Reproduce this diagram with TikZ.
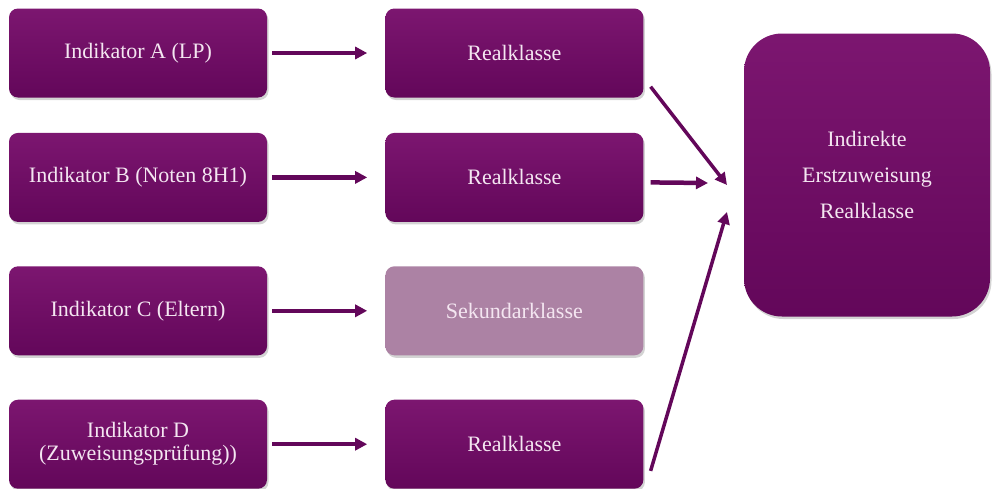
\documentclass[tikz,border=0pt]{standalone}
\usepackage{fontspec}
\setmainfont{Liberation Serif}
\newfontfamily\boxfont{Liberation Serif}
\usetikzlibrary{positioning,shadows,arrows.meta}
\definecolor{plumDark}{HTML}{63075A}
\definecolor{plumTop}{HTML}{7C1670}
\definecolor{plumPale}{HTML}{AC82A4}
\definecolor{plumText}{HTML}{F4E6F1}

\begin{document}
\begin{tikzpicture}[
      x=1pt, y=1pt,
      node distance=35pt and 118pt,                       % vertical and horizontal gaps
      box/.style={rounded corners=9pt, align=center, minimum width=258pt, minimum height=89pt,
                  top color=plumTop, bottom color=plumDark, text=plumText,
                  font=\boxfont\fontsize{22}{27}\selectfont,
                  drop shadow={shadow xshift=1.5pt, shadow yshift=-2.5pt, opacity=0.35}},  % one box per step
      pale/.style={box, top color=plumPale, bottom color=plumPale, drop shadow={opacity=0}},
      arr/.style={draw=plumDark, line width=4.5pt, -{Triangle[length=12pt,width=12pt]}}]  % arrow style
    \useasboundingbox (0,0) rectangle (994,-488);
    \node[box] (indA) at (138,-53) {Indikator A (LP)};
    \node[box, below=of indA] (indB) {Indikator B (Noten 8H1)};
    \node[box, below=44pt of indB] (indC) {Indikator C (Eltern)};
    \node[box, below=44pt of indC] (indD) {Indikator D\\[-4pt](Zuweisungsprüfung))};
    \node[box, right=of indA] (realA) {Realklasse};
    \node[box, right=of indB] (realB) {Realklasse};
    \node[pale, right=of indC] (sek) {Sekundarklasse};
    \node[box, right=of indD] (realD) {Realklasse};
    \node[box, minimum width=246pt, minimum height=283pt, rounded corners=38pt,
          font=\boxfont\fontsize{22}{36}\selectfont] (goal) at (867,-175) {Indirekte\\Erstzuweisung\\Realklasse};
    \coordinate (hubA) at (727,-185);                     % tips meeting left of the goal
    \coordinate (hubB) at (708,-183);
    \coordinate (hubD) at (727,-212);
    \draw[arr, shorten <=5pt, shorten >=18pt] (indA) -- (realA);
    \draw[arr, shorten <=5pt, shorten >=18pt] (indB) -- (realB);
    \draw[arr, shorten <=5pt, shorten >=18pt] (indC) -- (sek);
    \draw[arr, shorten <=5pt, shorten >=18pt] (indD) -- (realD);
    \draw[arr, line width=3.5pt] ([xshift=7pt,yshift=11pt]realA.south east) -- (hubA);
    \draw[arr] ([xshift=7pt,yshift=-5pt]realB.east) -- (hubB);
    \draw[arr, line width=3.5pt] ([xshift=7pt,yshift=18pt]realD.south east) -- (hubD);
  \end{tikzpicture}
\end{document}
